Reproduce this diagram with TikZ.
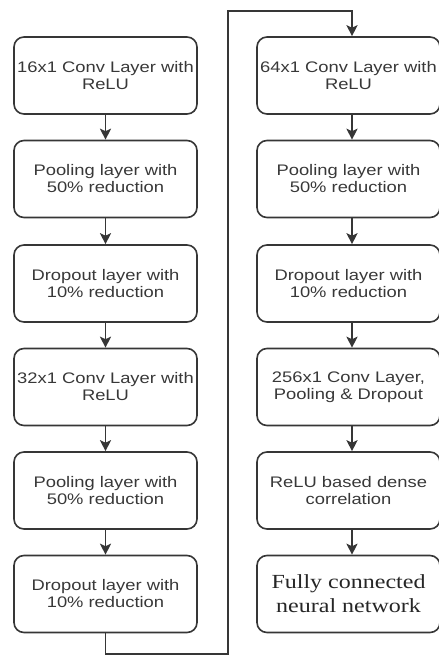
\documentclass[tikz,border=0pt]{standalone}
\usepackage{fontspec}
\setmainfont{Liberation Sans}[FakeStretch=1.2]
\newfontfamily\serifface{Liberation Serif}[FakeStretch=1.2]
\usetikzlibrary{arrows.meta}
\definecolor{edge}{HTML}{363636}
\definecolor{ink}{HTML}{383838}
\tikzset{
  layerbox/.style={draw=edge, line width=1.6pt, rounded corners=10pt,
    minimum width=183pt, minimum height=77pt, inner sep=2pt,
    align=center, text=ink, font=\fontsize{15.3}{17}\selectfont},
  serifbox/.style={layerbox, font=\serifface\fontsize{20}{24}\selectfont, text=black!85},
  flow/.style={draw=edge, line width=1.6pt,
    -{Stealth[length=11pt,width=11pt,inset=2.5pt]}}
}
\begin{document}
\begin{tikzpicture}[x=1pt,y=-1pt]
  \useasboundingbox (0,0) rectangle (439,656);

  % left column
  \node[layerbox] (L1) at (105.5,75.5) {16x1 Conv Layer with\\ReLU};
  \node[layerbox] (L2) at (105.5,179)  {Pooling layer with\\50\% reduction};
  \node[layerbox] (L3) at (105.5,283.5){Dropout layer with\\10\% reduction};
  \node[layerbox] (L4) at (105.5,387)  {32x1 Conv Layer with\\ReLU};
  \node[layerbox] (L5) at (105.5,490.5){Pooling layer with\\50\% reduction};
  \node[layerbox] (L6) at (105.5,594)  {Dropout layer with\\10\% reduction};

  % right column
  \node[layerbox] (R1) at (348.5,75.5) {64x1 Conv Layer with\\ReLU};
  \node[layerbox] (R2) at (348.5,179)  {Pooling layer with\\50\% reduction};
  \node[layerbox] (R3) at (348.5,283.5){Dropout layer with\\10\% reduction};
  \node[layerbox] (R4) at (348.5,387)  {256x1 Conv Layer,\\Pooling \& Dropout};
  \node[layerbox] (R5) at (348.5,490.5){ReLU based dense\\correlation};
  \node[serifbox] (R6) at (348.5,594)  {Fully connected\\neural network};

  % arrows within the left column
  \foreach \a/\b in {L1/L2,L2/L3,L3/L4,L4/L5,L5/L6}
    \draw[flow] (\a.south) -- (\b.north);

  % arrows within the right column
  \foreach \a/\b in {R1/R2,R2/R3,R3/R4,R4/R5,R5/R6}
    \draw[flow] ([xshift=3.5pt]\a.south) -- ([xshift=3.5pt]\b.north);

  % link from the bottom of the left column to the top of the right column
  \coordinate (turnA) at (228,654);
  \coordinate (turnB) at (228,11);
  \draw[flow] (L6.south) |- (turnA) -- (turnB) -| ([xshift=3.5pt]R1.north);
\end{tikzpicture}
\end{document}
